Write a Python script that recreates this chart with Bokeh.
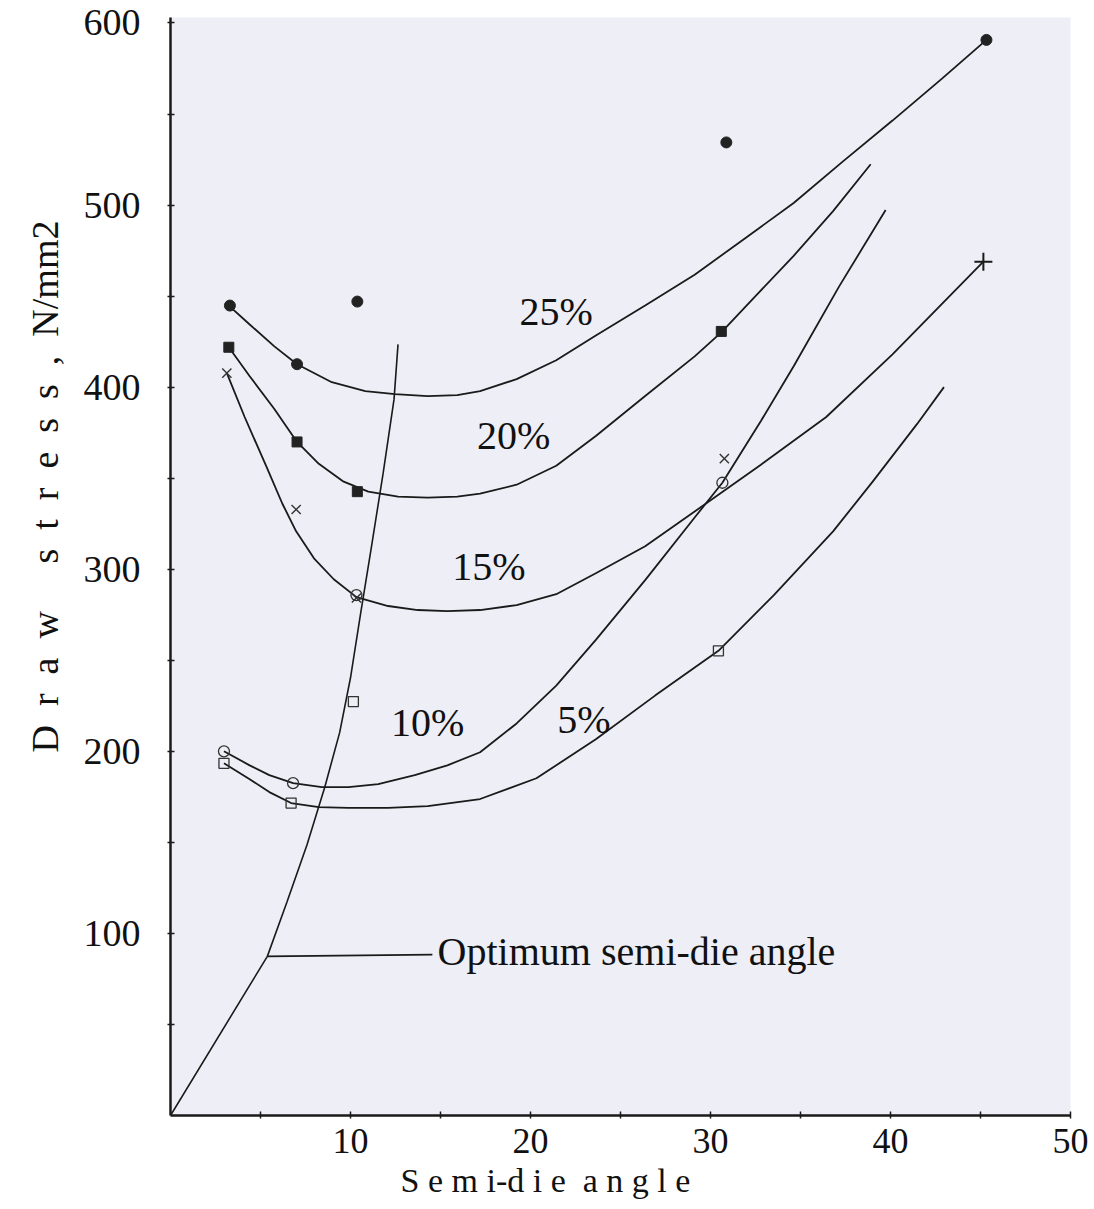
from bokeh.plotting import figure
from bokeh.models import Range1d, FixedTicker, Title
from bokeh.core.properties import value
from bokeh.embed import file_html
from bokeh.resources import INLINE

FONT = "Liberation Serif"
INK = "#1a1a1a"
PAPER = "#edeef6"
NB = "\u00a0"

# ---- hand-drawn curves: semi-die angle (deg) vs draw stress (N/mm2) ----
c25_angle = [3.24, 4.40, 5.77, 7.03, 8.96, 10.82, 12.47, 14.29, 15.93, 17.20, 19.23,
             21.43, 23.63, 26.37, 29.12, 31.87, 34.62, 37.36, 40.11, 42.86, 45.33]
c25_stress = [444.8, 434.4, 422.4, 412.6, 402.7, 397.8, 396.2, 395.1, 395.6, 397.8, 404.4,
              414.8, 428.4, 444.8, 461.7, 481.4, 501.1, 524.0, 546.4, 569.4, 590.7]

c20_angle = [3.24, 4.40, 5.77, 7.03, 8.24, 9.62, 10.99, 12.64, 14.29, 15.93, 17.20,
             19.23, 21.43, 23.63, 26.37, 29.12, 30.60, 32.42, 34.62, 36.81, 38.90]
c20_stress = [421.9, 406.0, 388.0, 369.9, 357.9, 348.1, 342.6, 339.9, 339.3, 339.9, 341.5,
              346.4, 356.8, 373.2, 395.1, 416.9, 430.1, 449.2, 472.1, 496.7, 522.4]

c15_angle = [3.13, 4.12, 5.33, 6.21, 6.98, 7.97, 9.07, 10.33, 12.09, 13.74, 15.38,
             17.20, 19.23, 21.43, 23.63, 26.37, 29.12, 32.80, 36.43, 40.11, 45.16]
c15_stress = [407.7, 383.6, 356.3, 336.1, 320.8, 306.0, 294.5, 284.7, 279.8, 277.6, 277.0,
              277.6, 280.3, 286.3, 297.8, 312.6, 331.7, 357.4, 383.6, 418.0, 468.9]

c10_angle = [2.97, 4.40, 5.49, 6.81, 8.41, 9.89, 11.54, 13.57, 15.38, 17.20, 19.23,
             21.43, 23.63, 26.37, 29.12, 30.66, 32.80, 34.62, 37.14, 39.73]
c10_stress = [200.0, 192.3, 186.9, 182.5, 180.3, 180.3, 182.0, 186.9, 192.3, 199.5, 215.3,
              236.1, 261.2, 294.0, 328.4, 347.5, 381.4, 411.5, 455.2, 497.3]

c5_angle = [2.97, 4.40, 5.49, 6.70, 8.24, 9.89, 12.09, 14.29, 17.20, 20.33, 23.63,
            26.92, 30.44, 33.52, 36.81, 39.01, 41.48, 42.97]
c5_stress = [193.4, 184.7, 177.6, 171.6, 169.4, 168.9, 168.9, 169.9, 173.8, 185.2, 206.6,
             230.6, 255.2, 285.8, 320.8, 348.1, 379.8, 400.0]

# optimum semi-die angle locus
opt_angle = [0.0, 5.38, 6.48, 7.58, 8.57, 9.40, 10.00, 10.55, 11.15, 11.81, 12.42, 12.64]
opt_stress = [0.0, 87.4, 117.5, 148.6, 180.3, 210.4, 240.4, 274.9, 311.5, 352.5, 393.4, 423.5]
leader_angle = [5.38, 14.55]
leader_stress = [87.4, 88.4]

# ---- measured points ----
p25_angle = [3.30, 7.03, 10.38, 30.88, 45.33]
p25_stress = [444.8, 412.6, 447.0, 534.4, 590.7]
p20_angle = [3.24, 7.03, 10.38, 30.60]
p20_stress = [421.9, 369.9, 342.6, 430.6]
p15_angle = [3.13, 6.98, 10.33, 30.77]
p15_stress = [407.7, 332.8, 284.2, 360.7]
p15_end_angle = [45.16]
p15_end_stress = [468.9]
p10_angle = [2.97, 6.81, 10.33, 30.66]
p10_stress = [200.0, 182.5, 285.8, 347.5]
p5_angle = [2.97, 6.70, 10.16, 30.44]
p5_stress = [193.4, 171.6, 227.3, 255.2]

# ---- curve labels ----
label_text = ["25%", "20%", "15%", "10%", "5%"]
label_angle = [21.43, 19.07, 17.69, 14.29, 22.97]
label_stress = [441.5, 373.2, 301.6, 215.8, 217.5]

note_text = ["Optimum semi-die angle"]
note_angle = [14.84]
note_stress = [90.2]

x_ticks = [10, 20, 30, 40, 50]
x_minor = [5, 15, 25, 35, 45]
y_ticks = [100, 200, 300, 400, 500, 600]
y_minor = [50, 150, 250, 350, 450, 550]

x_title = "S e m i-d i e" + NB + " a n g l e"
_g = NB + " "
y_title = _g.join("Draw") + NB * 4 + " " + _g.join("stress,") + NB + " N/mm2"

p = figure(
    frame_width=900, frame_height=1098,
    x_range=Range1d(0, 50), y_range=Range1d(0, 603),
    min_border_left=170, min_border_right=24, min_border_top=17, min_border_bottom=92,
    output_backend="svg", toolbar_location=None,
    background_fill_color=PAPER, border_fill_color="white",
)
p.outline_line_color = None
p.grid.visible = False

for ax in (p.xaxis[0], p.yaxis[0]):
    ax.axis_line_color = INK
    ax.axis_line_width = 2.5
    ax.major_tick_line_color = INK
    ax.minor_tick_line_color = INK
    ax.major_tick_line_width = 1.5
    ax.minor_tick_line_width = 1.5
    ax.major_tick_in = 4
    ax.major_tick_out = 3
    ax.minor_tick_in = 4
    ax.minor_tick_out = 3
    ax.major_label_text_font = FONT
    ax.major_label_text_color = "#111111"

p.xaxis.major_label_text_font_size = "36px"
p.yaxis.major_label_text_font_size = "38px"
p.xaxis.ticker = FixedTicker(ticks=x_ticks, minor_ticks=x_minor)
p.yaxis.ticker = FixedTicker(ticks=y_ticks, minor_ticks=y_minor)
p.xaxis.major_label_standoff = 10
p.yaxis.major_label_standoff = 27

# curves
for xs, ys in [(c25_angle, c25_stress), (c20_angle, c20_stress), (c15_angle, c15_stress),
               (c10_angle, c10_stress), (c5_angle, c5_stress)]:
    p.line(xs, ys, line_color=INK, line_width=1.8)
p.line(opt_angle, opt_stress, line_color=INK, line_width=1.6)
p.line(leader_angle, leader_stress, line_color=INK, line_width=1.8)

# markers
p.scatter(p25_angle, p25_stress, marker="circle", size=11, fill_color="#222222", line_color="#222222")
p.scatter(p20_angle, p20_stress, marker="square", size=10, fill_color="#222222", line_color="#222222")
p.scatter(p15_angle, p15_stress, marker="x", size=13, line_color="#333333", line_width=1.4)
p.scatter(p15_end_angle, p15_end_stress, marker="cross", size=18, line_color=INK, line_width=2)
p.scatter(p10_angle, p10_stress, marker="circle", size=11, fill_color=None, line_color="#333333", line_width=1.3)
p.scatter(p5_angle, p5_stress, marker="square", size=10, fill_color=None, line_color="#333333", line_width=1.3)

p.text(label_angle, label_stress, text=label_text, text_font=value(FONT), text_font_size="40px",
       text_align="center", text_baseline="middle", text_color="#111111")
p.text(note_angle, note_stress, text=note_text, text_font=value(FONT), text_font_size="40px",
       text_align="left", text_baseline="middle", text_color="#111111")

# axis titles
p.add_layout(Title(text=x_title, align="left", offset=230, standoff=12, vertical_align="top",
                   text_font=FONT, text_font_size="34px", text_font_style="normal",
                   text_color="#111111"), "below")
p.add_layout(Title(text=y_title, align="left", offset=363, standoff=30, vertical_align="bottom",
                   text_font=FONT, text_font_size="38px", text_font_style="normal",
                   text_color="#111111"), "left")

open("out.html", "w").write(file_html(p, INLINE))
